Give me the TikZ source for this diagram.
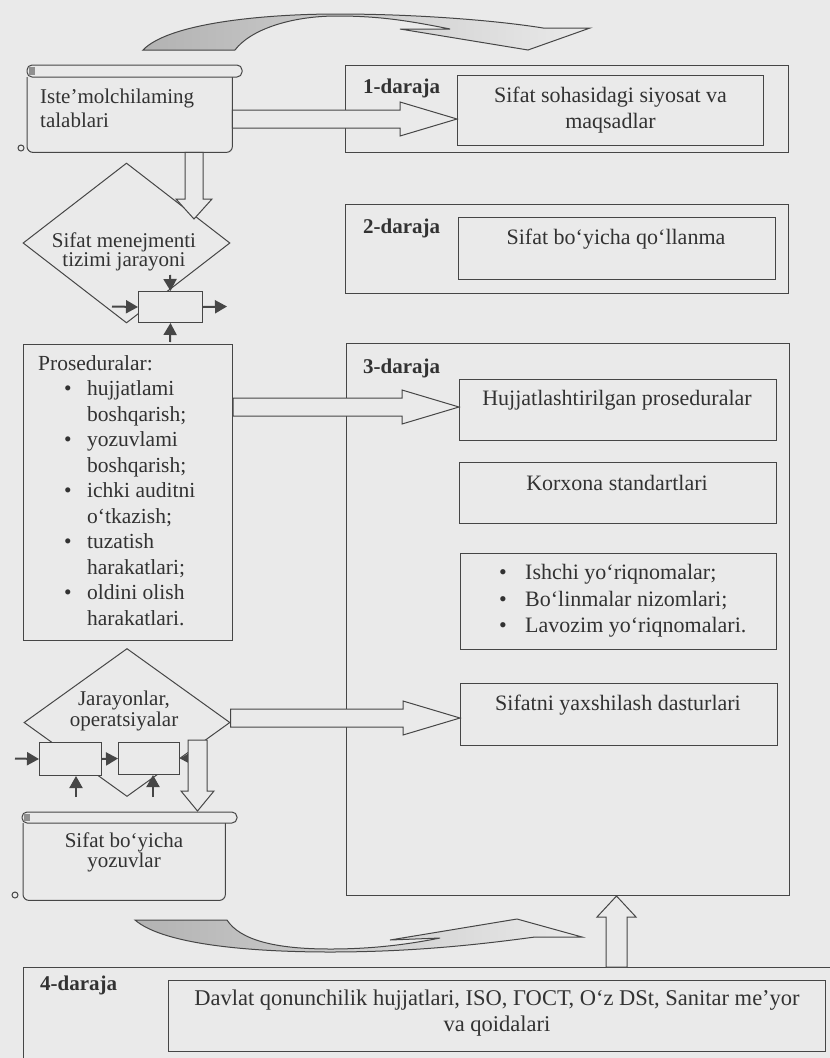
\documentclass[tikz,border=0pt]{standalone}
\usepackage{fontspec}
\setmainfont{Liberation Serif}
\usetikzlibrary{shapes.geometric,arrows.meta,calc}
\definecolor{bgc}{RGB}{234,234,234}
\definecolor{lnc}{RGB}{70,70,70}
\definecolor{txc}{RGB}{50,50,50}
% horizontal block arrow: #1 start anchor, #2 tip anchor, #3 y (px, down)
\newcommand\harr[3]{%
 \path[blk] let \p1=(#1), \p2=(#2) in
  ({\x1},{-#3pt+9pt}) -- ({\x2-57pt},{-#3pt+9pt}) -- ({\x2-57pt},{-#3pt+17pt})
  -- ({\x2},{-#3pt}) -- ({\x2-57pt},{-#3pt-17pt}) -- ({\x2-57pt},{-#3pt-9pt})
  -- ({\x1},{-#3pt-9pt}) -- cycle;}
% vertical block arrow: #1 start, #2 tip, #3 half shaft, #4 half head, #5 head length (canvas, signed)
\newcommand\varr[5]{%
 \path[blk] let \p1=(#1), \p2=(#2) in
  ({\x2-#3pt},{\y1}) -- ({\x2-#3pt},{\y2+#5pt}) -- ({\x2-#4pt},{\y2+#5pt})
  -- ({\x2},{\y2}) -- ({\x2+#4pt},{\y2+#5pt}) -- ({\x2+#3pt},{\y2+#5pt})
  -- ({\x2+#3pt},{\y1}) -- cycle;}
\newcommand\bul{\makebox[49pt][l]{\hspace{26pt}•}}
\newcommand\ind{\hspace*{49pt}}
\begin{document}
\begin{tikzpicture}[x=1pt,y=-1pt,
  ln/.style={draw=lnc, line width=1pt},
  box/.style={ln, fill=bgc, rectangle, inner sep=0pt, anchor=north west},
  txt/.style={text=txc, font=\fontsize{21}{26}\selectfont, inner sep=0pt},
  rtxt/.style={text=txc, font=\fontsize{22}{26}\selectfont, inner sep=0pt},
  lbl/.style={text=txc, font=\fontsize{21}{24}\selectfont\bfseries, inner sep=0pt, anchor=west},
  blk/.style={ln, fill=bgc, line join=miter},
  sarr/.style={draw=lnc, line width=2pt, -{Triangle[length=12pt,width=13pt]}},
  dia/.style={ln, diamond, inner sep=0pt},
]
\path[use as bounding box] (0,0) rectangle (830,1058);
\clip (0,0) rectangle (830,1058);
\fill[bgc] (0,0) rectangle (830,1058);

% curved arrows
\draw[ln, left color=black!30, right color=bgc]
  (143,50) .. controls (170,22) and (270,14) .. (337,14)
  .. controls (420,14) and (500,21) .. (543,28) -- (590,28) -- (528,50) -- (400,29) -- (450,29)
  .. controls (410,21) and (380,16) .. (337,16)
  .. controls (290,16) and (250,30) .. (235,50) -- cycle;
\draw[ln, left color=black!30, right color=bgc]
  (135,920) .. controls (165,946) and (260,952) .. (330,952)
  .. controls (420,952) and (490,943) .. (535,937) -- (582,937) -- (517,919) -- (390,940) -- (440,938)
  .. controls (400,946) and (365,949) .. (330,949)
  .. controls (275,949) and (240,940) .. (227,920) -- cycle;

% level boxes
\node[box, minimum width=443, minimum height=87] (l1) at (345,65) {};
\node[box, rtxt, minimum width=306, minimum height=70, align=center] (s1) at (457,75) {Sifat sohasidagi siyosat va\\maqsadlar};
\node[lbl] (d1) at (363,88) {1-daraja};

\node[box, minimum width=443, minimum height=89] (l2) at (345,204) {};
\node[box, minimum width=317, minimum height=62] (s2) at (458,217) {};
\node[rtxt] (t2) at (616,239) {Sifat bo‘yicha qo‘llanma};
\node[lbl] (d2) at (363,228) {2-daraja};

\node[box, minimum width=443, minimum height=552] (l3) at (346,343) {};
\node[lbl] (d3) at (363,368) {3-daraja};
\node[box, minimum width=317, minimum height=61] (s3) at (459,379) {};
\node[rtxt] (t3) at (617,400) {Hujjatlashtirilgan proseduralar};
\node[box, minimum width=317, minimum height=61] (s4) at (459,462) {};
\node[rtxt] (t4) at (617,483) {Korxona standartlari};
\node[box, minimum width=316, minimum height=96] (s5) at (460,553) {};
\node[rtxt, anchor=west, align=left, font=\fontsize{22}{26.5}\selectfont] (t5) at (499,601)
  {\makebox[26pt][l]{•}Ishchi yo‘riqnomalar;\\\makebox[26pt][l]{•}Bo‘linmalar nizomlari;\\\makebox[26pt][l]{•}Lavozim yo‘riqnomalari.};
\node[box, minimum width=317, minimum height=62] (s6) at (460,683) {};
\node[rtxt] (t6) at (618,705) {Sifatni yaxshilash dasturlari};

\node[box, minimum width=840, minimum height=120] (l4) at (23,967) {};
\node[lbl] (d4) at (40,985) {4-daraja};
\node[box, minimum width=657, minimum height=71] (s7) at (168,980) {};
\node[rtxt, align=center, font=\fontsize{22.5}{26}\selectfont] (t7) at (497,1013) {Davlat qonunchilik hujjatlari, ISO, ГОСТ, O‘z DSt, Sanitar me’yor\\va qoidalari};

% scroll 1
\node[inner sep=0pt, minimum width=205, minimum height=75, anchor=north west] (ist) at (27,77) {};
\draw[ln, fill=bgc, rounded corners=6pt] (ist.north west) -- (ist.south west) -- (ist.south east) -- (ist.north east);
\draw[ln, fill=bgc, rounded corners=5pt] (27,65) rectangle (242,77);
\fill[lnc!60] (29,67) rectangle (35,75);
\draw[ln] (21,148) circle (3);
\node[txt, anchor=west, align=left, font=\fontsize{21}{24}\selectfont] (istt) at (40,108) {Iste’molchilaming\\talablari};

% diamond 1
\node[dia, minimum width=207, minimum height=160] (dm1) at (126.5,243) {};
\node[txt, align=center, font=\fontsize{21}{19}\selectfont] (dm1t) at (124,252) {Sifat menejmenti\\tizimi jarayoni};
\node[box, minimum width=64, minimum height=31] (r0) at (138,291) {};
\coordinate (a0l) at (112,306.5);
\coordinate (a0t) at (170,275);
\coordinate (a0r) at (227,306.5);
\coordinate (a0b) at (170,342);
\draw[sarr] (a0l) -- (r0.west);
\draw[sarr] (a0t) -- (r0.north);
\draw[sarr] (r0.east) -- (a0r);
\draw[sarr] (a0b) -- (r0.south);

% procedures
\node[box, minimum width=209, minimum height=296] (pr) at (23,344) {};
\node[txt, anchor=north west, align=left, font=\fontsize{21.5}{25.5}\selectfont] (prt) at (38,355)
 {Proseduralar:\\
  \bul hujjatlami\\ \ind boshqarish;\\
  \bul yozuvlami\\ \ind boshqarish;\\
  \bul ichki auditni\\ \ind o‘tkazish;\\
  \bul tuzatish\\ \ind harakatlari;\\
  \bul oldini olish\\ \ind harakatlari.};

% diamond 2
\node[dia, minimum width=206, minimum height=148] (dm2) at (127,722.5) {};
\node[txt, align=center, font=\fontsize{21}{17.5}\selectfont] (dm2t) at (124,711) {Jarayonlar,\\operatsiyalar};
\node[box, minimum width=62, minimum height=33] (r1) at (39,742) {};
\node[box, minimum width=61, minimum height=32] (r2) at (118,742) {};
\coordinate (a1l) at (15,758.5);
\coordinate (a2r) at (201,758);
\coordinate (a1b) at (76,797);
\coordinate (a2b) at (153,797);
\draw[sarr] (a1l) -- (r1.west);
\draw[sarr] (r1.east) -- (r2.west);
\draw[sarr] (a2r) -- (r2.east);
\draw[sarr] (a1b) -- (a1b |- r1.south);
\draw[sarr] (a2b) -- (a2b |- r2.south);

% scroll 2
\node[inner sep=0pt, minimum width=202, minimum height=77, anchor=north west] (rec) at (23,823) {};
\draw[ln, fill=bgc, rounded corners=6pt] (rec.north west) -- (rec.south west) -- (rec.south east) -- (rec.north east);
\draw[ln, fill=bgc, rounded corners=5pt] (22,812) rectangle (237,823);
\fill[lnc!60] (24,814) rectangle (30,821);
\draw[ln] (15,895) circle (3);
\node[txt, align=center, font=\fontsize{21}{20}\selectfont] (rect) at (124,852) {Sifat bo‘yicha\\yozuvlar};

% block arrows
\harr{ist.east}{s1.west}{119}
\harr{pr.east}{s3.west}{407}
\harr{dm2.east}{s6.west}{718}
\coordinate (c1) at (194,219);
\varr{ist.south}{c1}{9}{18}{20}
\coordinate (c2s) at (197.5,740);
\coordinate (c2t) at (197.5,811);
\varr{c2s}{c2t}{9.5}{16.5}{20}
\coordinate (c3s) at (616.5,967);
\coordinate (c3t) at (616.5,896);
\varr{c3s}{c3t}{10.5}{19.5}{-21}
\end{tikzpicture}
\end{document}
